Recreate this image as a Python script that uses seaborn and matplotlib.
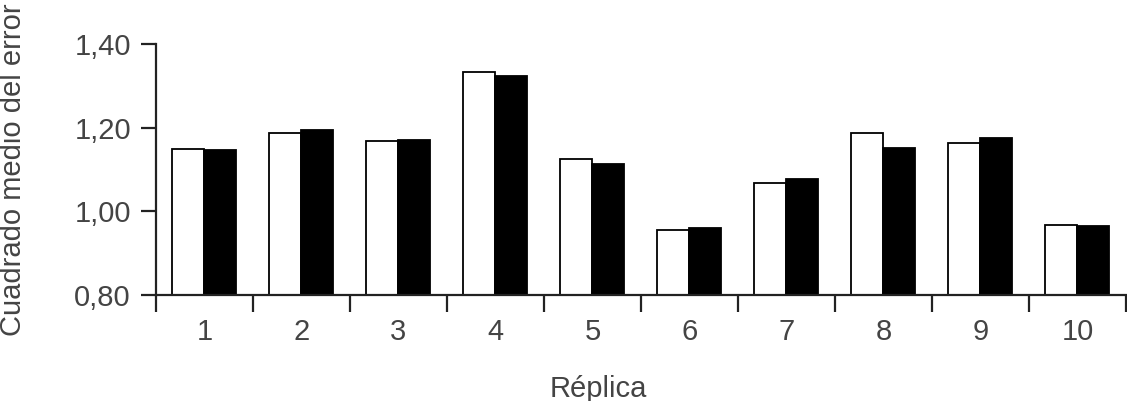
import numpy as np
import pandas as pd
import seaborn as sns
import matplotlib.pyplot as plt
from matplotlib.ticker import FuncFormatter, FixedLocator

# valores
replicas = ['1', '2', '3', '4', '5', '6', '7', '8', '9', '10']
serie_blanca = [1.150, 1.188, 1.168, 1.333, 1.126, 0.954, 1.068, 1.188, 1.164, 0.967]
serie_negra = [1.146, 1.194, 1.170, 1.323, 1.113, 0.959, 1.078, 1.151, 1.175, 0.964]
y_ticks = [0.80, 1.00, 1.20, 1.40]

df = pd.DataFrame({
    'Replica': replicas * 2,
    'CME': serie_blanca + serie_negra,
    'Serie': ['A'] * len(replicas) + ['B'] * len(replicas),
})

sns.set_style('ticks')
plt.rcParams['font.family'] = ['Liberation Sans', 'DejaVu Sans']
gris = '#444444'

fig = plt.figure(figsize=(11.27, 4.01), dpi=100)
ax = fig.add_axes([0.1384, 0.2651, 0.8607, 0.6244])

sns.barplot(data=df, x='Replica', y='CME', hue='Serie', order=replicas,
            palette=['white', 'black'], edgecolor='black', linewidth=1.3,
            width=0.66, gap=0, legend=False, ax=ax)

ax.set_ylim(0.80, 1.40)
ax.set_xlim(-0.5, len(replicas) - 0.5)
ax.set_yticks(y_ticks)
ax.yaxis.set_major_formatter(FuncFormatter(lambda v, p: f'{v:.2f}'.replace('.', ',')))

# marcas de division entre grupos
ax.xaxis.set_minor_locator(FixedLocator(np.arange(-0.5, len(replicas), 1.0)))
ax.tick_params(axis='x', which='major', length=0, pad=17, labelsize=21, labelcolor=gris)
ax.tick_params(axis='x', which='minor', length=12, width=1.6, direction='out', color='#222222')
ax.tick_params(axis='y', length=11, width=1.6, pad=7, labelsize=21, labelcolor=gris, color='#222222')

sns.despine(ax=ax)
for s in ['left', 'bottom']:
    ax.spines[s].set_linewidth(1.6)
    ax.spines[s].set_color('#222222')

ax.set_xlabel('Réplica', fontsize=21, color=gris)
ax.set_ylabel('Cuadrado medio del error', fontsize=21, color=gris)
ax.xaxis.set_label_coords(0.456, -0.32)
ax.yaxis.set_label_coords(-0.133, 0.5)

fig.savefig('out.png', dpi=100)
